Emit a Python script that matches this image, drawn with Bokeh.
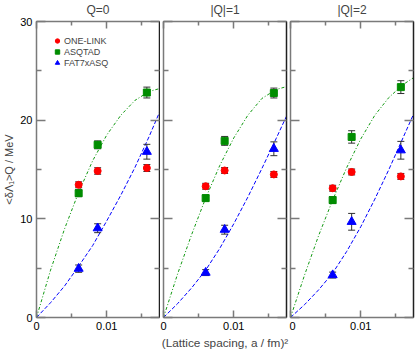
from bokeh.plotting import figure
from bokeh.models import Range1d, LinearAxis, FixedTicker
from bokeh.layouts import row
from bokeh.embed import file_html
from bokeh.resources import INLINE

# ---------------- data ----------------
a2 = [0.0060, 0.0087, 0.0157]          # (lattice spacing)^2 in fm^2
titles = ["Q=0", "|Q|=1", "|Q|=2"]

onelink = [[13.45, 14.85, 15.15], [13.3, 14.9, 14.5], [13.1, 14.75, 14.3]]
onelink_err = [[0.3, 0.33, 0.35], [0.3, 0.3, 0.3], [0.3, 0.3, 0.3]]
asqtad = [[12.6, 17.5, 22.8], [12.1, 17.9, 22.75], [11.9, 18.3, 23.35]]
asqtad_err = [[0.35, 0.4, 0.55], [0.3, 0.45, 0.5], [0.35, 0.63, 0.65]]
fat7 = [[4.95, 9.05, 16.8], [4.55, 8.9, 17.1], [4.3, 9.7, 16.95]]
fat7_err = [[0.37, 0.45, 0.75], [0.3, 0.45, 0.7], [0.3, 0.85, 0.9]]

fit_x = [0, 0.002, 0.004, 0.006, 0.008, 0.010, 0.012, 0.014, 0.016, 0.0175]
fit_asqtad = [[0, 4.8, 9.0, 12.7, 15.9, 18.5, 20.5, 22.0, 22.9, 23.2],
              [0, 4.4, 8.4, 12.1, 15.4, 18.2, 20.5, 22.2, 23.1, 23.4],
              [0, 4.3, 8.3, 11.9, 15.2, 18.1, 20.5, 22.3, 23.6, 24.3]]
fit_fat7 = [[0, 1.5, 3.2, 5.2, 7.3, 9.8, 12.4, 15.2, 18.3, 20.8],
            [0, 1.4, 3.0, 4.8, 7.0, 9.5, 12.2, 15.1, 18.1, 20.4],
            [0, 1.3, 2.8, 4.5, 6.7, 9.2, 12.0, 15.0, 18.2, 20.6]]

series_names = ["ONE-LINK", "ASQTAD", "FAT7xASQ"]
x_major = [0, 0.01]
x_minor = [0.005, 0.015]
x_labels = {0: "0", 0.01: "0.01"}
y_major = [0, 10, 20, 30]
y_minor = [5, 15, 25]
y_label = "<δΛ₁>Q / MeV"
x_label = "(Lattice spacing, a / fm)²"

FONT = "Liberation Sans"
RED, GREEN, BLUE = "#ff0000", "#008c00", "#0000ff"
AXC = "#7a7a7a"
ERRC = "#303030"

# panel geometry: (width, left border, right border)
geom = [(160, 36, 1), (129, 3, 3), (126, 1, 2)]


def style_axis(ax, major, minor, tin, tmin, show_labels):
    ax.ticker = FixedTicker(ticks=major, minor_ticks=minor)
    ax.axis_line_color = AXC
    ax.axis_line_width = 1.5
    ax.major_tick_line_color = AXC
    ax.minor_tick_line_color = AXC
    ax.major_tick_line_width = 1.5
    ax.minor_tick_line_width = 1.5
    ax.major_tick_in = tin
    ax.major_tick_out = 0
    ax.minor_tick_in = tmin
    ax.minor_tick_out = 0
    ax.major_label_text_font = FONT
    if show_labels:
        ax.major_label_text_color = "black"
        ax.major_label_text_font_size = "11px"
        ax.major_label_standoff = 4
    else:
        ax.major_label_text_color = None
        ax.major_label_text_font_size = "0px"
        ax.major_label_standoff = 0


def make_panel(i):
    first = i == 0
    w, lb, rb = geom[i]
    p = figure(width=w, height=352, x_range=Range1d(0, 0.0175), y_range=Range1d(0, 30),
               output_backend="svg", toolbar_location=None,
               min_border_left=lb, min_border_right=rb,
               min_border_top=21, min_border_bottom=35,
               title=titles[i])
    p.grid.visible = False
    p.outline_line_color = "#202020"
    p.outline_line_width = 1
    p.background_fill_color = "white"
    p.border_fill_color = "white"
    p.title.align = "center"
    p.title.vertical_align = "top"
    p.title.text_font = FONT
    p.title.text_font_size = "12px"
    p.title.text_font_style = "normal"
    p.title.standoff = 5

    style_axis(p.xaxis[0], x_major, x_minor, 7, 4, True)
    p.xaxis[0].major_label_overrides = x_labels
    style_axis(p.yaxis[0], y_major, y_minor, 9, 5, first)
    if first:
        p.yaxis[0].axis_label = y_label
        p.yaxis[0].axis_label_text_font = FONT
        p.yaxis[0].axis_label_text_font_size = "11px"
        p.yaxis[0].axis_label_text_font_style = "normal"
        p.yaxis[0].axis_label_standoff = 2
    if i == 1:
        p.xaxis[0].axis_label = x_label
        p.xaxis[0].axis_label_text_font = FONT
        p.xaxis[0].axis_label_text_font_size = "11.8px"
        p.xaxis[0].axis_label_text_font_style = "normal"
        p.xaxis[0].axis_label_standoff = 3
    top = LinearAxis()
    style_axis(top, x_major, x_minor, 7, 4, False)
    p.add_layout(top, "above")
    right = LinearAxis()
    style_axis(right, y_major, y_minor, 9, 5, False)
    right.axis_line_color = "#202020"
    p.add_layout(right, "right")

    # fits
    p.line(fit_x, fit_asqtad[i], line_color="#119911", line_width=1, line_dash="3 2 1 2")
    p.line(fit_x, fit_fat7[i], line_color=BLUE, line_width=1, line_dash="4 2")

    # error bars
    for vals, errs in ((onelink[i], onelink_err[i]), (asqtad[i], asqtad_err[i]), (fat7[i], fat7_err[i])):
        lo = [v - e for v, e in zip(vals, errs)]
        hi = [v + e for v, e in zip(vals, errs)]
        p.segment(a2, lo, a2, hi, line_color=ERRC, line_width=1)
        p.scatter(a2, lo, marker="dash", size=7, line_color=ERRC, line_width=1)
        p.scatter(a2, hi, marker="dash", size=7, line_color=ERRC, line_width=1)

    p.scatter(a2, onelink[i], marker="circle", size=7, fill_color=RED, line_color=RED,
              **({"legend_label": series_names[0]} if first else {}))
    p.scatter(a2, asqtad[i], marker="square", size=7, fill_color=GREEN, line_color=GREEN,
              **({"legend_label": series_names[1]} if first else {}))
    p.scatter(a2, fat7[i], marker="triangle", size=9, fill_color=BLUE, line_color=BLUE,
              **({"legend_label": series_names[2]} if first else {}))

    if first:
        lg = p.legend[0]
        lg.location = "top_left"
        lg.margin = 14
        lg.padding = 0
        lg.spacing = 0
        lg.glyph_width = 14
        lg.glyph_height = 11
        lg.label_height = 11
        lg.label_standoff = 0
        lg.label_text_font = FONT
        lg.label_text_font_size = "9px"
        lg.border_line_color = None
        lg.background_fill_alpha = 0
    return p


panels = [make_panel(i) for i in range(3)]
layout = row(*panels)
open("out.html", "w").write(file_html(layout, INLINE))
